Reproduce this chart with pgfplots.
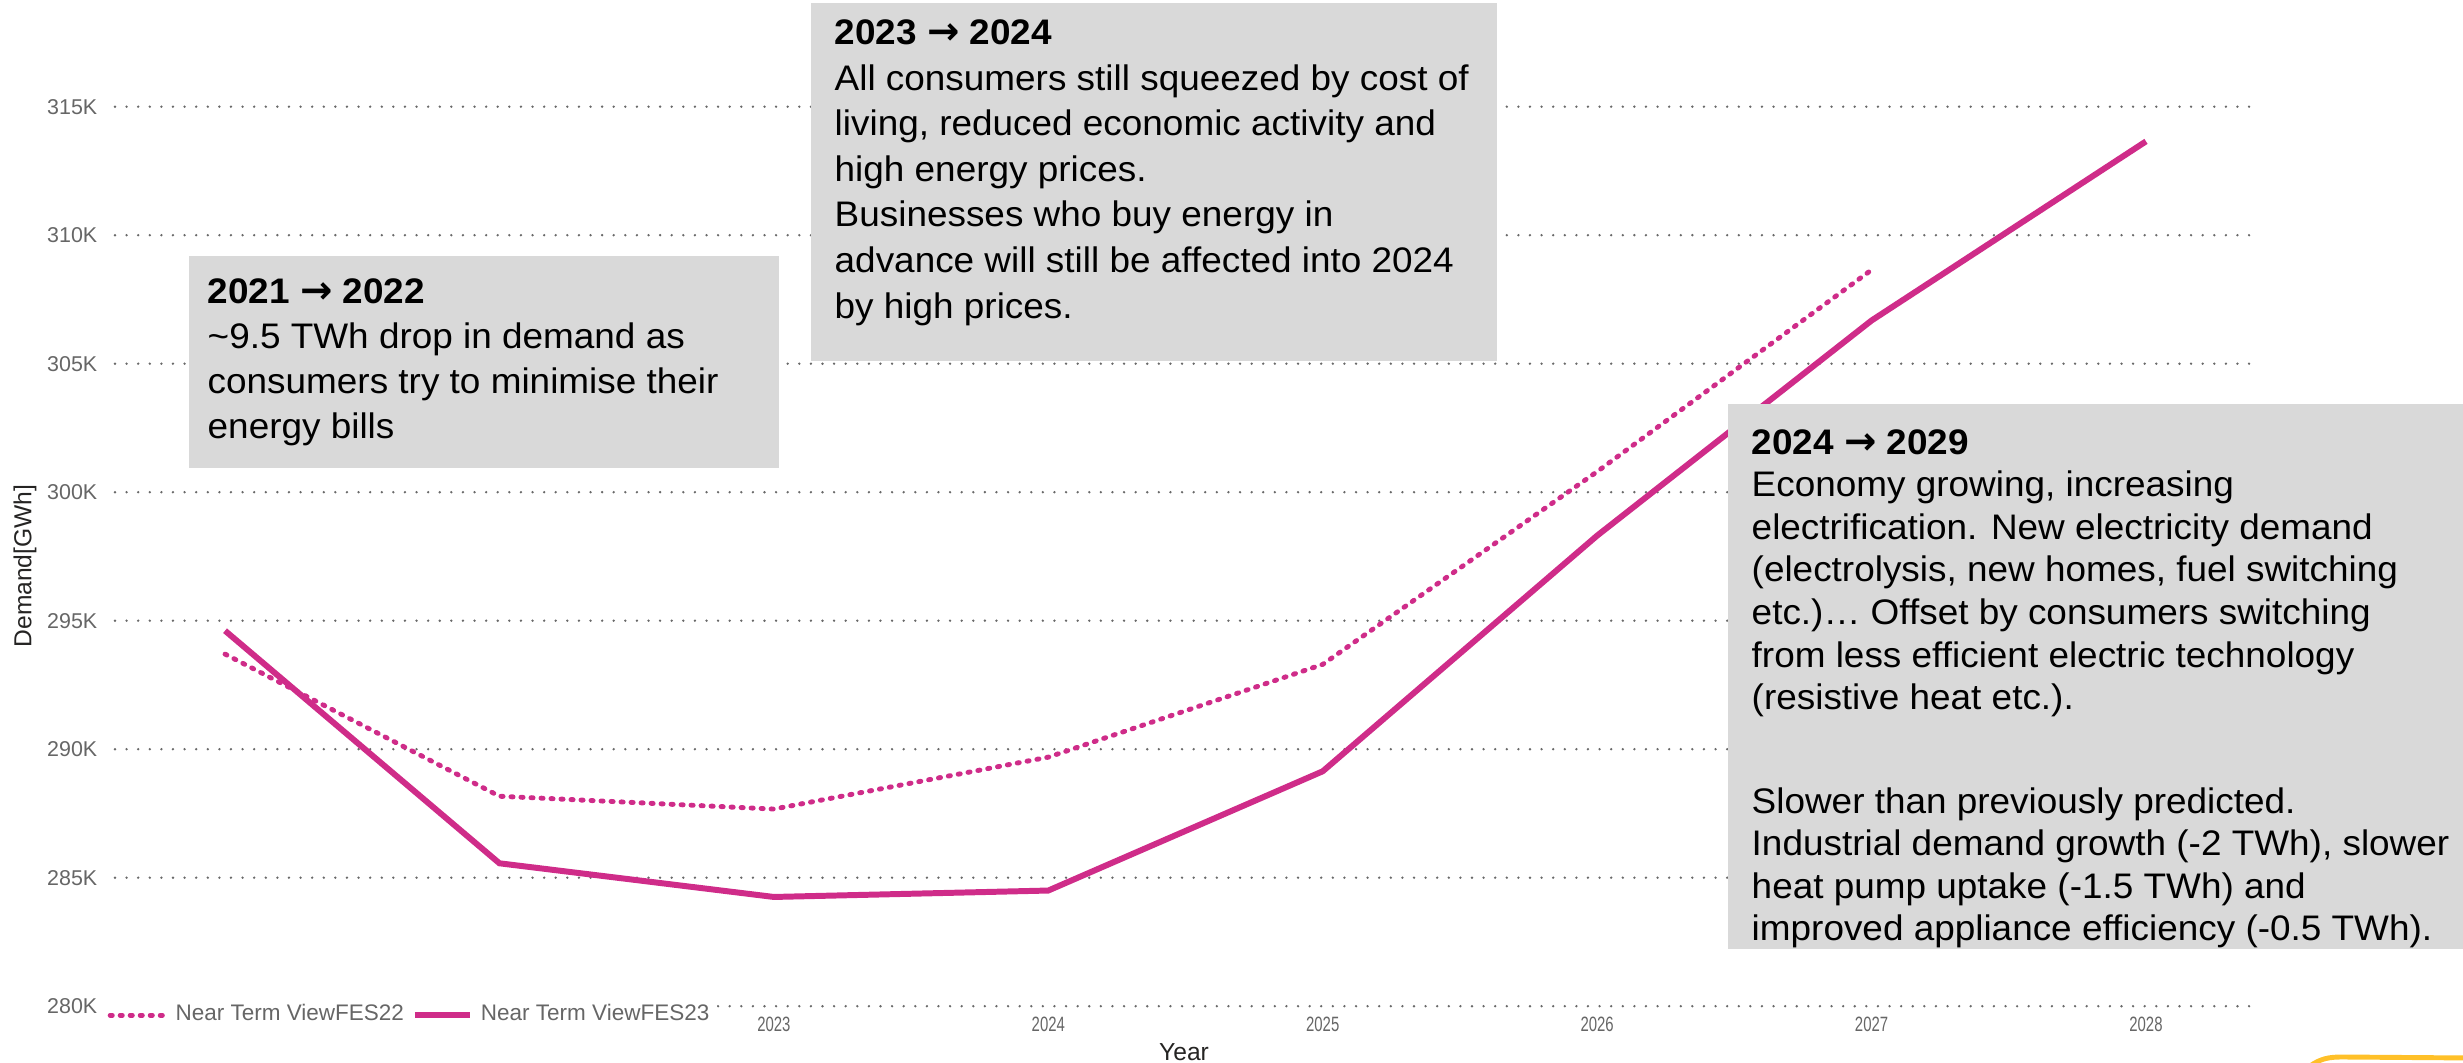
\documentclass[border=0pt]{standalone}
\usepackage{fontspec}
\setmainfont{Liberation Sans}
\newfontfamily\boxfont[FakeStretch=1.04]{Liberation Sans}
\newfontfamily\xtfont[FakeStretch=0.72]{Liberation Sans}
\newfontfamily\arrowfont{DejaVu Sans}
\usepackage{pgfplots}
\pgfplotsset{compat=1.18}
\definecolor{fes}{RGB}{207,44,137}
\definecolor{gridc}{RGB}{105,105,105}
\definecolor{tickc}{RGB}{102,102,102}
\definecolor{boxc}{RGB}{217,217,217}
\definecolor{labc}{RGB}{37,36,35}
\definecolor{gold}{RGB}{255,192,40}
\newcommand\bx[3]{\node[anchor=base west, inner sep=0pt, font=\boxfont\fontsize{10.1}{12}\selectfont] at (#1,#2) {#3};}
\newcommand\arr{{\arrowfont\bfseries\fontsize{11}{12}\selectfont →}}
\begin{document}
\begin{tikzpicture}
\useasboundingbox (0,0) rectangle (24.63,10.63);
\begin{axis}[
  at={(1.15cm,0.568cm)}, anchor=south west,
  scale only axis, width=21.38cm, height=8.995cm,
  xmin=2020.599, xmax=2028.39, ymin=280, ymax=315,
  axis line style={draw=none},
  major tick length=0pt,
  xtick={2023,2024,2025,2026,2027,2028},
  xticklabels={2023,2024,2025,2026,2027,2028},
  ytick={280,285,290,295,300,305,310,315},
  yticklabels={280K,285K,290K,295K,300K,305K,310K,315K},
  xticklabel style={font=\xtfont\fontsize{5.9}{6}\selectfont, text=tickc, anchor=center, inner sep=0pt, yshift=-0.18cm},
  yticklabel style={font=\fontsize{6.1}{7}\selectfont, text=tickc, anchor=east, inner sep=0pt, xshift=-0.17cm},
  ymajorgrids,
  major grid style={draw=gridc, line width=0.75pt, line cap=round, dash pattern=on 0pt off 3.3pt},
  xlabel={Year}, ylabel={Demand[GWh]},
  xlabel style={at={(axis description cs:0.5,-0.0509)}, anchor=center, font=\fontsize{7}{8}\selectfont, text=labc},
  ylabel style={at={(axis description cs:-0.0421,0.4894)}, anchor=center, font=\fontsize{7}{8}\selectfont, text=labc},
  legend columns=2,
  legend style={at={(axis description cs:0,0)}, anchor=west, xshift=-0.08cm, yshift=-0.09cm, draw=none, fill=white, inner sep=0pt, nodes={inner xsep=0.08cm, inner ysep=1pt}, font=\fontsize{6.4}{7.5}\selectfont, text=tickc},
  legend image code/.code={\draw[#1] (0cm,0cm) -- (0.55cm,0cm);},
]
\addplot[fes, line width=1.4pt, line cap=round, dash pattern=on 0.6pt off 2.25pt] coordinates {
  (2021,293.70) (2022,288.17) (2023,287.67) (2024,289.69) (2025,293.30) (2026,300.8) (2027,308.65)};
\addlegendentry{Near Term ViewFES22}
\addplot[fes, line width=1.7pt] coordinates {
  (2021,294.61) (2022,285.56) (2023,284.25) (2024,284.5) (2025,289.14) (2026,298.31) (2027,306.68) (2028,313.65)};
\addlegendentry{Near Term ViewFES23}
\end{axis}
% annotation boxes
\fill[boxc] (1.885,5.95) rectangle (7.79,8.07);
\fill[boxc] (8.105,7.02) rectangle (14.97,10.60);
\fill[boxc] (17.28,1.14) rectangle (24.63,6.59);
\bx{2.07}{7.594}{\bfseries 2021 \arr{} 2022}
\bx{2.07}{7.144}{\textasciitilde 9.5 TWh drop in demand as}
\bx{2.07}{6.694}{consumers try to minimise their}
\bx{2.07}{6.244}{energy bills}
\bx{8.34}{10.185}{\bfseries 2023 \arr{} 2024}
\bx{8.34}{9.729}{All consumers still squeezed by cost of}
\bx{8.34}{9.273}{living, reduced economic activity and}
\bx{8.34}{8.817}{high energy prices.}
\bx{8.34}{8.361}{Businesses who buy energy in}
\bx{8.34}{7.905}{advance will still be affected into 2024}
\bx{8.34}{7.449}{by high prices.}
\bx{17.51}{6.08}{\bfseries 2024 \arr{} 2029}
\bx{17.51}{5.66}{Economy growing, increasing}
\bx{17.51}{5.234}{electrification. New electricity demand}
\bx{17.51}{4.81}{(electrolysis, new homes, fuel switching}
\bx{17.51}{4.382}{etc.)… Offset by consumers switching}
\bx{17.51}{3.956}{from less efficient electric technology}
\bx{17.51}{3.53}{(resistive heat etc.).}
\bx{17.51}{2.49}{Slower than previously predicted.}
\bx{17.51}{2.07}{Industrial demand growth (-2 TWh), slower}
\bx{17.51}{1.64}{heat pump uptake (-1.5 TWh) and}
\bx{17.51}{1.22}{improved appliance efficiency (-0.5 TWh).}
\draw[gold, line width=1.4pt] (23.10,-0.03) to[out=35,in=180] (23.42,0.06) -- (24.70,0.05);
\end{tikzpicture}
\end{document}
